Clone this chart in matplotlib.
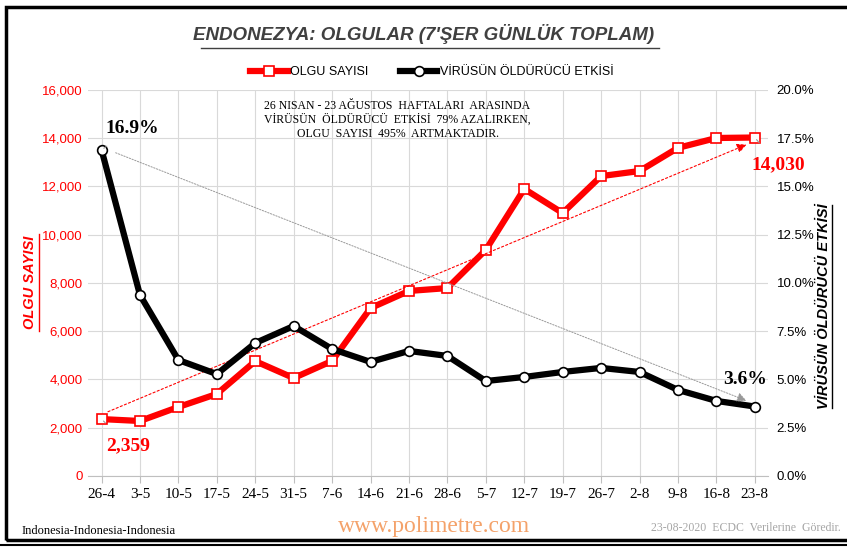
import matplotlib.pyplot as plt
from matplotlib.ticker import FuncFormatter
from matplotlib.patches import Rectangle

weeks = ['26-4', '3-5', '10-5', '17-5', '24-5', '31-5', '7-6', '14-6', '21-6',
         '28-6', '5-7', '12-7', '19-7', '26-7', '2-8', '9-8', '16-8', '23-8']
cases = [2359, 2280, 2860, 3400, 4760, 4060, 4770, 6960, 7670, 7790, 9370,
         11900, 10900, 12430, 12640, 13600, 14010, 14030]
lethality = [16.9, 9.38, 6.01, 5.28, 6.89, 7.77, 6.58, 5.91, 6.48, 6.22, 4.92,
             5.13, 5.39, 5.60, 5.39, 4.46, 3.89, 3.6]

serif = ['Liberation Serif', 'DejaVu Serif']
sans = ['Liberation Sans', 'DejaVu Sans']
narrow = ['Liberation Sans Narrow', 'Liberation Sans', 'DejaVu Sans']

fig = plt.figure(figsize=(8.47, 5.47), dpi=100)
ax = fig.add_axes([0.104, 0.1298, 0.803, 0.7057])
ax2 = ax.twinx()

x = list(range(len(weeks)))

ax.set_xlim(-0.35, len(weeks) - 0.65)
ax.set_ylim(0, 16000)
ax2.set_ylim(0, 20)
ax.set_yticks(range(0, 16001, 2000))
ax2.set_yticks([0, 2.5, 5, 7.5, 10, 12.5, 15, 17.5, 20])
ax.yaxis.set_major_formatter(FuncFormatter(lambda v, p: f'{int(v):,}'))
ax2.yaxis.set_major_formatter(FuncFormatter(lambda v, p: f'{v:.1f}%'))
ax.set_xticks(x)
ax.set_xticklabels(weeks, fontfamily=serif, fontsize=11)
for t in ax.get_yticklabels():
    t.set_fontfamily(sans); t.set_color('red'); t.set_fontsize(9.5)
for t in ax2.get_yticklabels():
    t.set_fontfamily(sans); t.set_fontsize(9.5)

ax.grid(True, color='#d9d9d9', lw=0.8)
ax.set_axisbelow(True)
for a in (ax, ax2):
    for s in a.spines.values():
        s.set_visible(False)
ax.spines['bottom'].set_visible(True)
ax.spines['bottom'].set_color('#bfbfbf')
ax.tick_params(axis='x', length=5, color='#bfbfbf', pad=4)
ax.tick_params(axis='y', length=0, pad=4)
ax2.tick_params(axis='y', length=0, pad=6)

l1, = ax.plot(x, cases, color='red', lw=4.5, marker='s', ms=6.5,
              mfc='white', mec='red', mew=1.2, zorder=3, label='OLGU SAYISI')
l2, = ax2.plot(x, lethality, color='black', lw=4.5, marker='o', ms=7,
               mfc='white', mec='black', mew=1.2, zorder=3,
               label='VİRÜSÜN ÖLDÜRÜCÜ ETKİSİ')

# trend arrows
ax.annotate('', xy=(x[-1] - 0.15, cases[-1] - 250), xytext=(x[0] + 0.1, cases[0] + 260),
            arrowprops=dict(arrowstyle='-|>', color='red', lw=0.8, ls=(0, (2, 2)),
                            mutation_scale=14))
ax2.annotate('', xy=(x[-1] - 0.15, lethality[-1] + 0.25), xytext=(x[0] + 0.3, lethality[0] - 0.1),
             arrowprops=dict(arrowstyle='-|>', color='#999999', lw=0.7, ls=(0, (1.5, 1.5)),
                             mutation_scale=14))

# value labels
ax2.annotate(f'{lethality[0]}%', xy=(x[0], lethality[0]), xytext=(x[0] + 0.8, 18.0),
             fontfamily=serif, fontsize=14, fontweight='bold', ha='center', va='center',
             arrowprops=dict(arrowstyle='-', color='#999999', lw=0.8, shrinkA=8, shrinkB=2))
ax2.annotate(f'{lethality[-1]}%', xy=(x[-1], lethality[-1]), xytext=(x[-1] - 0.25, 5.0),
             fontfamily=serif, fontsize=14, fontweight='bold', ha='center', va='center')
ax.annotate(f'{cases[0]:,}', xy=(x[0], cases[0]), xytext=(x[0] + 0.7, 1250),
            fontfamily=serif, fontsize=14, fontweight='bold', color='red', ha='center', va='center',
            arrowprops=dict(arrowstyle='-', color='#999999', lw=0.8, shrinkA=12, shrinkB=2))
ax.annotate(f'{cases[-1]:,}', xy=(x[-1], cases[-1]), xytext=(x[-1] + 0.6, 12900),
            fontfamily=serif, fontsize=14, fontweight='bold', color='red', ha='center', va='center',
            arrowprops=dict(arrowstyle='-', color='#999999', lw=0.8, shrinkA=10, shrinkB=2))

ax.text(0.455, 0.923, '26 NISAN - 23 AĞUSTOS  HAFTALARI  ARASINDA\n'
        'VİRÜSÜN  ÖLDÜRÜCÜ  ETKİSİ  79% AZALIRKEN,\nOLGU  SAYISI  495%  ARTMAKTADIR.',
        transform=ax.transAxes, ha='center', va='center', fontfamily=serif,
        fontsize=8.5, linespacing=1.2)

# axis titles
fig.text(0.036, 0.483, 'OLGU SAYISI', rotation=90, color='red', fontfamily=narrow,
         fontsize=10.5, fontweight='bold', style='italic', ha='center', va='center')
fig.text(0.973, 0.44, 'VİRÜSÜN ÖLDÜRÜCÜ ETKİSİ', rotation=90, color='black', fontfamily=narrow,
         fontsize=10.5, fontweight='bold', style='italic', ha='center', va='center')
# underlines for axis titles
fig.add_artist(plt.Line2D([0.0455, 0.0455], [0.395, 0.572], color='red', lw=1))
fig.add_artist(plt.Line2D([0.9825, 0.9825], [0.255, 0.625], color='black', lw=1))

# title
fig.text(0.5, 0.937, "ENDONEZYA: OLGULAR (7'ŞER GÜNLÜK TOPLAM)", ha='center', va='center',
         fontfamily=narrow, fontsize=13.5, fontweight='bold', style='italic', color='#404040')
fig.add_artist(plt.Line2D([0.237, 0.778], [0.913, 0.913], color='#404040', lw=1))

leg = fig.legend(handles=[l1, l2], loc='center', bbox_to_anchor=(0.51, 0.868), ncol=2,
                 frameon=False, prop={'family': narrow, 'size': 9}, handlelength=3,
                 columnspacing=2.5, handletextpad=0.2)

# footer
fig.text(0.026, 0.03, 'Indonesia-Indonesia-Indonesia', fontfamily=serif, fontsize=9,
         ha='left', va='center')
fig.text(0.512, 0.038, 'www.polimetre.com', fontfamily=serif, fontsize=17,
         color='#f4a26a', ha='center', va='center')
fig.text(0.993, 0.035, '23-08-2020  ECDC  Verilerine  Göredir.', fontfamily=serif,
         fontsize=8.5, color='#a6a6a6', ha='right', va='center')

# frame
fig.add_artist(Rectangle((0.007, 0.012), 1.2, 0.975, transform=fig.transFigure,
                         fill=False, ec='black', lw=2.5))
fig.add_artist(plt.Line2D([0, 1], [0.003, 0.003], color='black', lw=1.5))

fig.savefig('out.png', dpi=100)
